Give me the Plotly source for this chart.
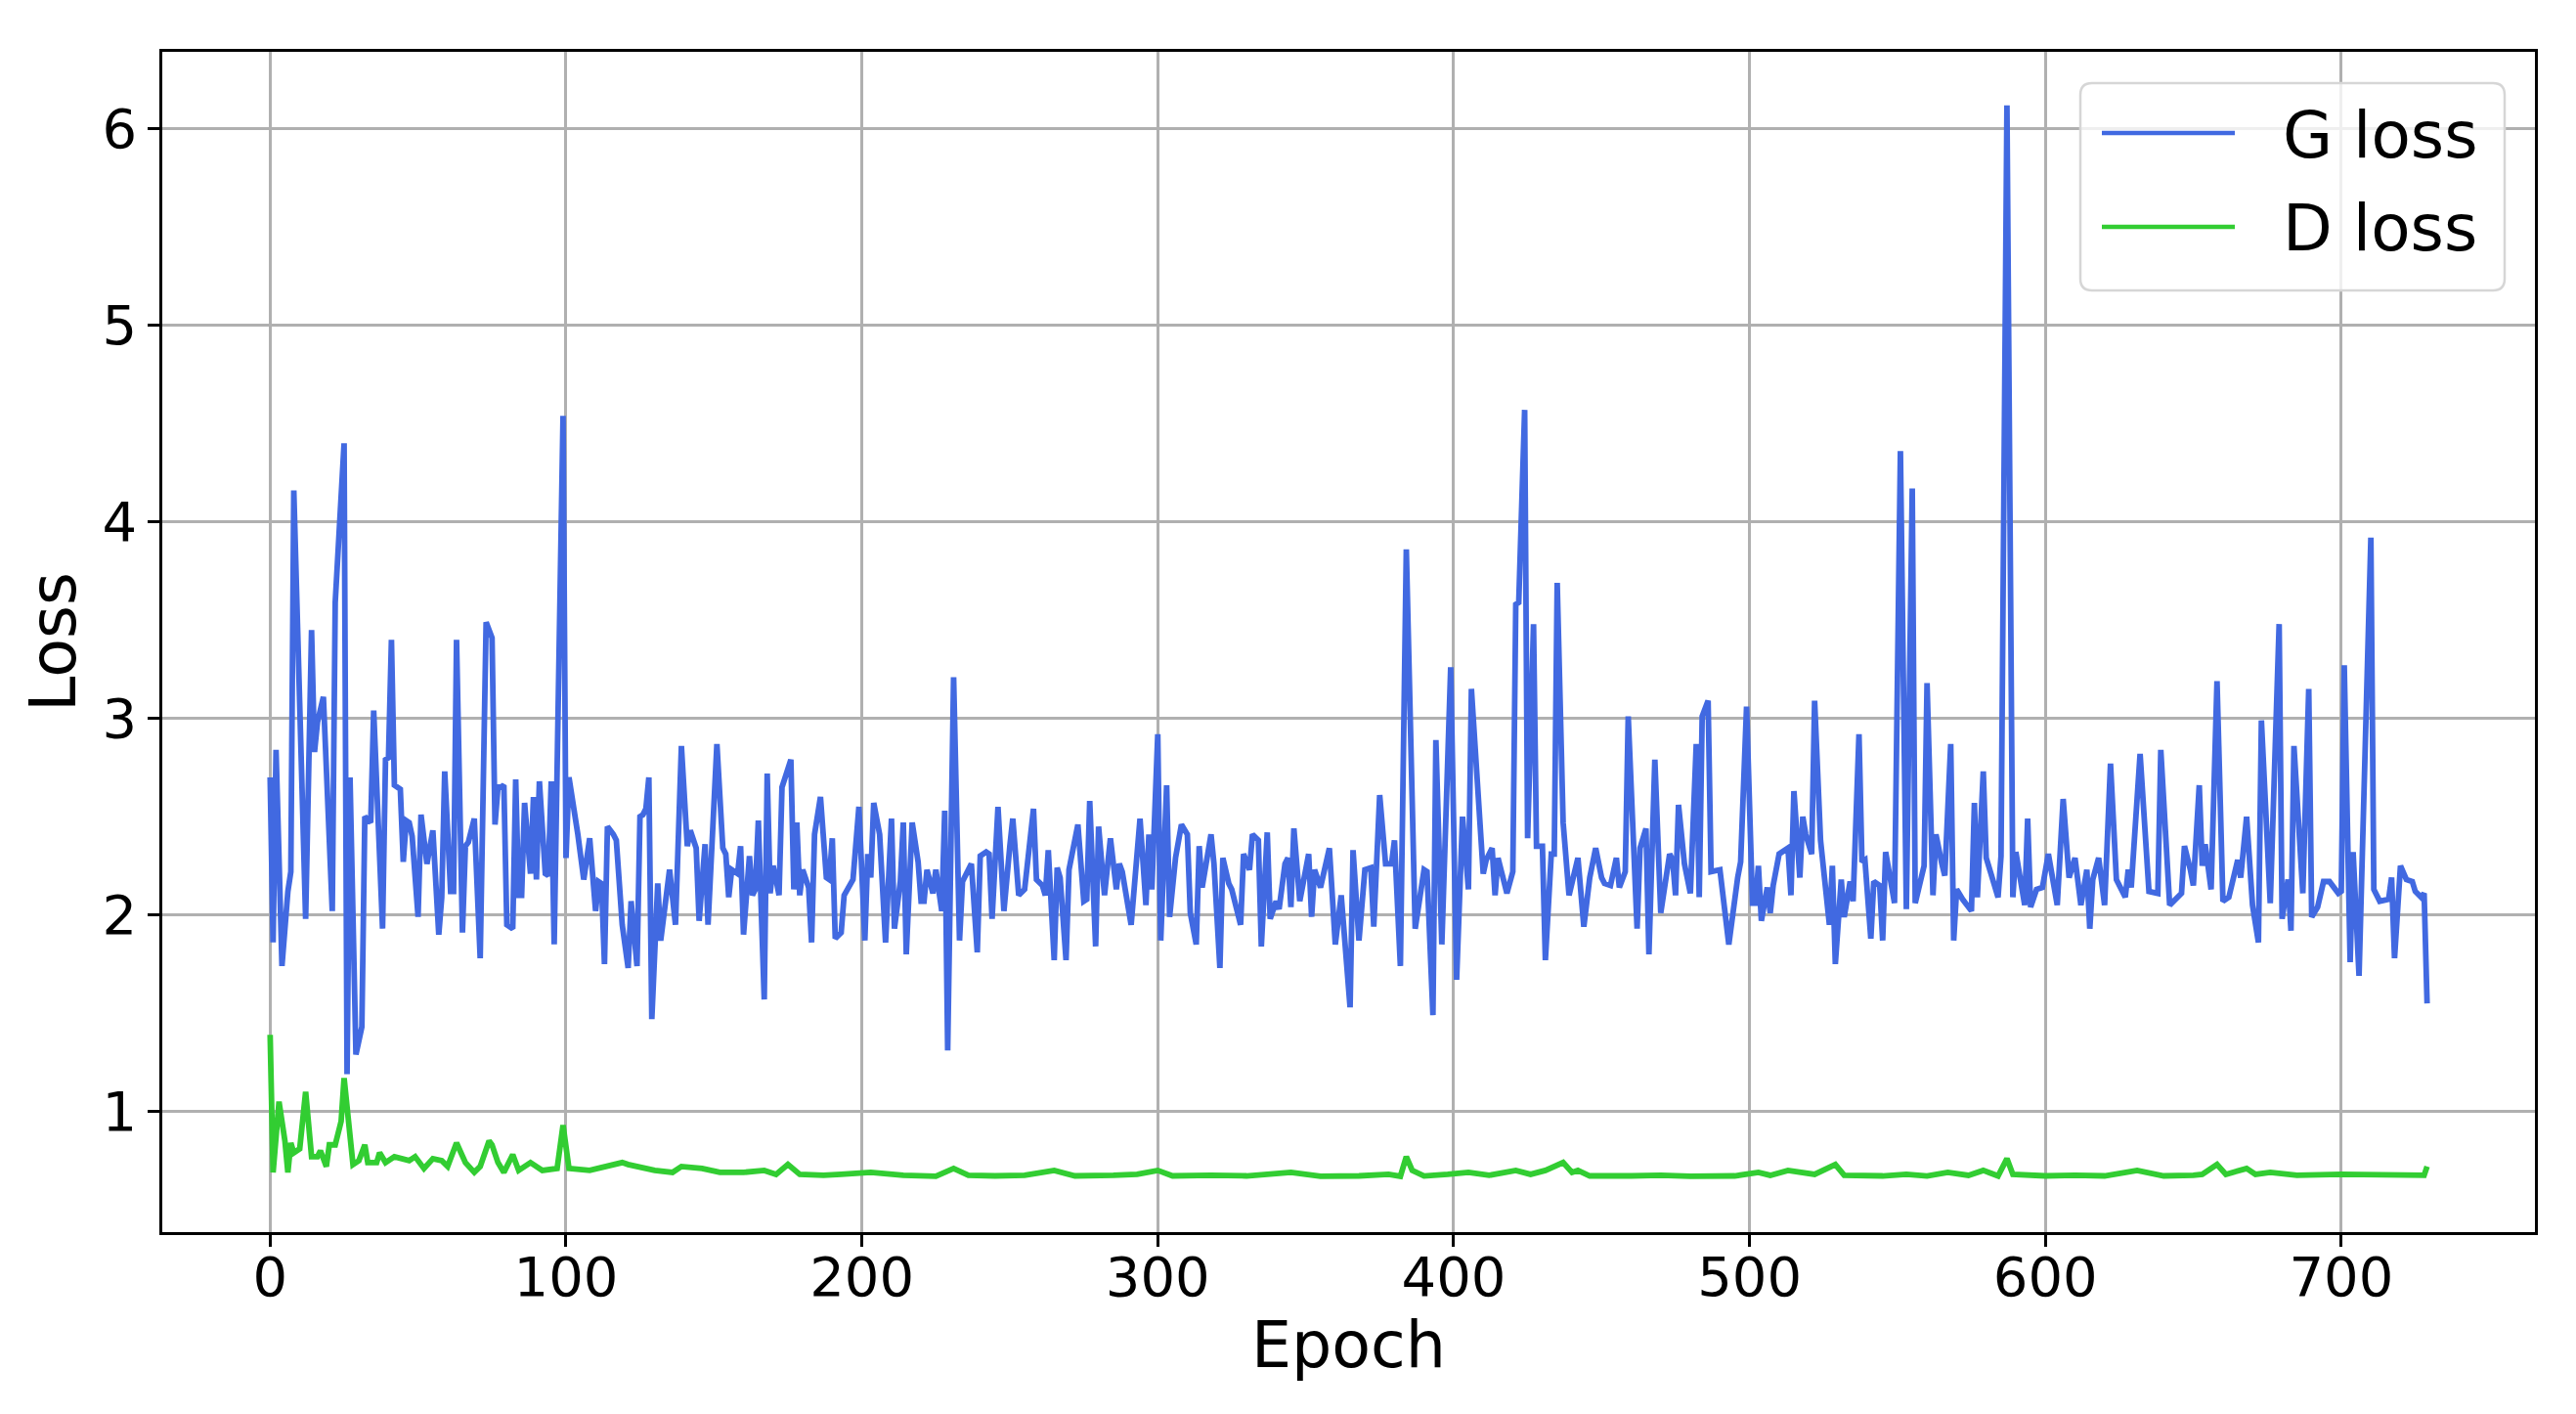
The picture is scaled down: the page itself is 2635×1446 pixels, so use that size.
import plotly.graph_objects as go

# ---- data ----
g_epoch = [0, 1, 2, 4, 6, 7, 8, 12, 14, 15, 16, 18, 21, 22, 25, 26, 27, 29, 31, 32, 34, 35, 38, 39, 40, 41, 42, 44, 45, 46, 47, 48, 50, 51, 53, 54, 55, 57, 58, 59, 61, 62, 63, 65, 66, 67, 69, 71, 73, 75, 76, 77,
           78, 79, 80, 82, 83, 84, 85, 86, 88, 89, 90, 91, 93, 94, 95, 96, 99, 100, 101, 104, 106, 108, 110, 111, 112, 113, 114, 116, 117, 119, 121, 122, 123, 124, 125, 126, 127, 128, 129, 131, 132, 135, 137, 139, 141, 142, 144, 145, 147, 148, 151, 153, 154, 155, 156, 158, 159, 160,
           162, 163, 164, 165, 167, 168, 169, 170, 171, 172, 173, 176, 177, 178, 179, 180, 182, 183, 184, 186, 188, 189, 190, 191, 193, 194, 197, 199, 201, 202, 203, 204, 206, 208, 210, 211, 213, 214, 215, 217, 219, 220, 221, 222, 224, 225, 227, 228, 229, 231, 233, 234, 237, 239, 240, 242,
           243, 244, 246, 248, 250, 251, 253, 255, 258, 259, 261, 262, 263, 265, 266, 267, 269, 270, 273, 275, 276, 277, 279, 280, 282, 284, 286, 287, 288, 291, 294, 296, 297, 298, 300, 301, 303, 304, 306, 308, 310, 311, 313, 314, 315, 318, 319, 321, 322, 324,
           325, 326, 328, 329, 331, 332, 334, 335, 337, 338, 340, 341, 343, 344, 345, 346, 348, 351, 352, 353, 355, 358, 360, 362, 365, 366, 368, 370, 372, 373, 375, 377, 379, 380, 382, 384, 387, 390, 391, 393, 394, 396, 399, 401, 403, 405,
           406, 410, 411, 413, 414, 415, 418, 420, 421, 422, 424, 425, 427, 428, 430, 431, 433, 434, 435, 437, 439, 442, 444, 446, 448, 450, 451, 453, 455, 456, 458, 459, 462, 463, 465, 466, 468, 470, 473, 474, 475, 476, 478, 480, 482, 483, 484, 486, 487,
           490, 493, 496, 497, 499, 501, 502, 503, 504, 506, 507, 508, 510, 513, 514, 515, 517, 518, 519, 521, 522, 524, 527, 528, 529, 531, 532, 534, 535, 537, 538, 539, 541, 542, 544, 545, 546, 547, 549, 551, 553, 555, 556, 559, 560, 562, 563, 565, 566, 568, 569,
           570, 572, 575, 576, 577, 579, 580, 583, 584, 585, 587, 589, 590, 593, 594, 595, 597, 599, 601, 604, 606, 608, 610, 612, 614, 615, 616, 618, 620, 622, 624, 627, 628, 629, 632, 635, 638, 639, 642, 646, 647, 649,
           650, 652, 653, 654, 656, 658, 660, 662, 665, 666, 668, 670, 672, 673, 676, 679, 680, 682, 683, 684, 687, 689, 690, 692, 694, 696, 699, 700, 701, 703, 704, 706, 710, 711, 713, 716, 717, 718, 720, 722, 724, 725, 727, 728, 729]

g_loss = [2.70, 1.86, 2.84, 1.74, 2.12, 2.22, 4.16, 1.98, 3.45, 2.83, 2.98, 3.11, 2.02, 3.59, 4.40, 1.19, 2.70, 1.29, 1.43, 2.50, 2.47, 3.04, 1.93, 2.79, 2.80, 3.40, 2.66, 2.64, 2.27, 2.48, 2.47, 2.40, 1.99, 2.51, 2.26, 2.37, 2.43, 1.90, 2.09, 2.73, 2.12, 2.12, 3.40, 1.91, 2.35, 2.37, 2.49, 1.78, 3.49, 3.41, 2.46, 2.65,
          2.65, 2.66, 1.95, 1.93, 2.69, 2.10, 2.10, 2.57, 2.21, 2.60, 2.18, 2.68, 2.21, 2.20, 2.68, 1.85, 4.54, 2.29, 2.70, 2.41, 2.18, 2.39, 2.02, 2.17, 2.16, 1.75, 2.45, 2.41, 2.38, 1.95, 1.73, 2.07, 1.93, 1.74, 2.50, 2.51, 2.54, 2.70, 1.47, 2.16, 1.87, 2.23, 1.95, 2.86, 2.35, 2.43, 2.34, 1.97, 2.36, 1.95, 2.87, 2.34, 2.31, 2.09, 2.23, 2.21, 2.35, 1.90,
          2.30, 2.10, 2.13, 2.48, 1.57, 2.72, 2.11, 2.25, 2.18, 2.10, 2.65, 2.79, 2.13, 2.47, 2.10, 2.23, 2.14, 1.86, 2.41, 2.60, 2.19, 2.18, 2.39, 1.88, 1.91, 2.10, 2.18, 2.55, 1.87, 2.31, 2.19, 2.57, 2.41, 1.86, 2.49, 1.93, 2.17, 2.47, 1.80, 2.47, 2.27, 2.07, 2.07, 2.23, 2.11, 2.23, 2.02, 2.53, 1.31, 3.21, 1.87, 2.17, 2.26, 1.81, 2.30, 2.32,
          2.31, 1.98, 2.55, 2.02, 2.35, 2.49, 2.10, 2.13, 2.54, 2.18, 2.15, 2.10, 2.33, 1.77, 2.24, 2.19, 1.77, 2.23, 2.46, 2.07, 2.08, 2.58, 1.84, 2.45, 2.10, 2.39, 2.13, 2.26, 2.22, 1.95, 2.49, 2.05, 2.41, 2.13, 2.92, 1.87, 2.66, 1.99, 2.29, 2.46, 2.41, 2.01, 1.85, 2.35, 2.14, 2.41, 2.26, 1.73, 2.29, 2.16,
          2.13, 2.07, 1.95, 2.31, 2.23, 2.41, 2.38, 1.84, 2.42, 1.98, 2.07, 2.03, 2.26, 2.29, 2.04, 2.44, 2.07, 2.31, 1.99, 2.23, 2.14, 2.34, 1.85, 2.10, 1.53, 2.33, 1.87, 2.23, 2.24, 1.94, 2.61, 2.26, 2.26, 2.38, 1.74, 3.86, 1.93, 2.23, 2.22, 1.49, 2.89, 1.85, 3.26, 1.67, 2.50, 2.13,
          3.15, 2.21, 2.28, 2.34, 2.10, 2.29, 2.11, 2.22, 3.58, 3.59, 4.57, 2.39, 3.48, 2.35, 2.35, 1.77, 2.31, 2.31, 3.69, 2.47, 2.10, 2.29, 1.94, 2.19, 2.34, 2.19, 2.16, 2.15, 2.29, 2.14, 2.22, 3.01, 1.93, 2.34, 2.44, 1.80, 2.79, 2.01, 2.31, 2.28, 2.10, 2.56, 2.26, 2.11, 2.87, 2.09, 3.01, 3.09, 2.22,
          2.23, 1.85, 2.19, 2.27, 3.06, 2.06, 2.06, 2.25, 1.97, 2.14, 2.01, 2.15, 2.31, 2.34, 2.10, 2.63, 2.19, 2.50, 2.41, 2.31, 3.09, 2.38, 1.95, 2.25, 1.75, 2.18, 1.99, 2.17, 2.07, 2.92, 2.27, 2.28, 1.88, 2.17, 2.15, 1.87, 2.32, 2.22, 2.06, 4.36, 2.03, 4.17, 2.06, 2.25, 3.18, 2.10, 2.41, 2.26, 2.20, 2.87, 1.87,
          2.13, 2.08, 2.02, 2.57, 2.09, 2.73, 2.29, 2.13, 2.09, 2.30, 6.12, 2.09, 2.32, 2.05, 2.49, 2.04, 2.13, 2.14, 2.31, 2.05, 2.59, 2.19, 2.29, 2.05, 2.23, 1.93, 2.18, 2.29, 2.05, 2.77, 2.18, 2.09, 2.23, 2.14, 2.82, 2.12, 2.11, 2.84, 2.05, 2.11, 2.35, 2.23,
          2.15, 2.66, 2.25, 2.36, 2.13, 3.19, 2.07, 2.09, 2.28, 2.19, 2.50, 2.05, 1.86, 2.99, 2.06, 3.48, 1.98, 2.18, 1.92, 2.86, 2.11, 3.15, 1.99, 2.04, 2.17, 2.17, 2.11, 2.12, 3.27, 1.76, 2.32, 1.69, 3.92, 2.13, 2.07, 2.08, 2.19, 1.78, 2.25, 2.18, 2.17, 2.12, 2.09, 2.11, 1.55]

d_epoch = [0, 1, 3, 5, 6, 7, 8, 10, 12, 14, 16, 17, 19, 20, 22, 24, 25, 27, 28, 30, 32, 33, 36, 37, 39, 42, 45, 47, 49, 52, 55, 58, 60, 63, 66, 69, 71, 74, 75, 77, 79, 82, 84, 88, 92, 97, 99, 101, 108, 114, 119, 121, 127, 130, 136, 139, 146, 152, 160,
           167, 171, 175, 179, 187, 193, 203, 214, 225, 231, 236, 245, 255, 265, 272, 285, 293, 300, 305, 318, 330, 345, 355, 368, 378, 382, 384, 386, 390, 398, 405, 412, 421, 426, 431, 437, 440, 442, 446, 460, 470, 480, 490, 495, 503, 507, 513, 518, 522, 529, 532, 545, 553, 560, 567, 574, 579, 584, 587, 589, 600, 610, 620, 631, 640, 650, 653, 658, 661, 668, 671, 676, 685, 700, 712, 720, 726, 728, 729]

d_loss = [1.39, 0.69, 1.05, 0.85, 0.69, 0.84, 0.79, 0.81, 1.10, 0.77, 0.77, 0.80, 0.72, 0.83, 0.83, 0.95, 1.17, 0.88, 0.73, 0.75, 0.83, 0.74, 0.74, 0.79, 0.74, 0.77, 0.76, 0.75, 0.77, 0.71, 0.76, 0.75, 0.72, 0.84, 0.74, 0.69, 0.72, 0.85, 0.83, 0.74, 0.69, 0.78, 0.70, 0.74, 0.70, 0.71, 0.93, 0.71, 0.70, 0.72, 0.74, 0.73, 0.71, 0.70, 0.69, 0.72, 0.71, 0.69, 0.69,
          0.70, 0.68, 0.73, 0.68, 0.675, 0.68, 0.69, 0.675, 0.67, 0.71, 0.675, 0.672, 0.675, 0.70, 0.672, 0.675, 0.68, 0.70, 0.672, 0.675, 0.672, 0.69, 0.67, 0.672, 0.68, 0.67, 0.77, 0.70, 0.672, 0.68, 0.69, 0.675, 0.70, 0.68, 0.70, 0.74, 0.69, 0.70, 0.672, 0.672, 0.675, 0.67, 0.675, 0.672, 0.69, 0.675, 0.70, 0.69, 0.68, 0.73, 0.675, 0.672, 0.68, 0.672, 0.69, 0.675, 0.70, 0.672, 0.76, 0.68, 0.672, 0.675, 0.672, 0.70, 0.672, 0.675, 0.68, 0.73, 0.68, 0.71, 0.68, 0.69, 0.675, 0.68, 0.68, 0.675, 0.675, 0.675, 0.72]

series_names = ["G loss", "D loss"]
series_colors = ["#4169E1", "#32CD32"]
x_ticks = [0, 100, 200, 300, 400, 500, 600, 700]
y_ticks = [1, 2, 3, 4, 5, 6]

FONT = "DejaVu Sans"
OFF = 8  # default page body margin of the html page
W, H = 2635 - OFF, 1446 - OFF
ML, MR, MT, MB = 166 - OFF, 42, 53 - OFF, 186
PW, PH = W - ML - MR, H - MT - MB


def px(xp):  # page pixel -> paper x
    return (xp - OFF - ML) / PW


def py(yp):  # page pixel -> paper y
    return (H - MB - (yp - OFF)) / PH


fig = go.Figure()
fig.add_trace(go.Scatter(x=g_epoch, y=g_loss, mode="lines", name=series_names[0],
                         line=dict(color=series_colors[0], width=5.8), showlegend=False))
fig.add_trace(go.Scatter(x=d_epoch, y=d_loss, mode="lines", name=series_names[1],
                         line=dict(color=series_colors[1], width=5.8), showlegend=False))

axis_common = dict(showline=True, mirror=True, linecolor="black", linewidth=2.5,
                   ticks="outside", ticklen=12, tickwidth=2.5, tickcolor="black",
                   showgrid=True, gridcolor="#b0b0b0", gridwidth=2.5,
                   zeroline=False, automargin=False,
                   tickfont=dict(family=FONT, size=56, color="black"))

# legend box (matplotlib-style, rounded corners)
bx0, bx1, by0, by1, r = 2128, 2562, 85, 297, 12
box_path = (f"M {px(bx0 + r)} {py(by0)} L {px(bx1 - r)} {py(by0)} "
            f"Q {px(bx1)} {py(by0)} {px(bx1)} {py(by0 + r)} "
            f"L {px(bx1)} {py(by1 - r)} Q {px(bx1)} {py(by1)} {px(bx1 - r)} {py(by1)} "
            f"L {px(bx0 + r)} {py(by1)} Q {px(bx0)} {py(by1)} {px(bx0)} {py(by1 - r)} "
            f"L {px(bx0)} {py(by0 + r)} Q {px(bx0)} {py(by0)} {px(bx0 + r)} {py(by0)} Z")
shapes = [dict(type="path", xref="paper", yref="paper", path=box_path,
               fillcolor="rgba(255,255,255,0.8)", line=dict(color="#d6d6d6", width=2.5), layer="above")]
annotations = []
for i, (name, col) in enumerate(zip(series_names, series_colors)):
    yc = 136 + 96 * i
    shapes.append(dict(type="line", xref="paper", yref="paper",
                       x0=px(2150), x1=px(2286), y0=py(yc), y1=py(yc),
                       line=dict(color=col, width=4.7), layer="above"))
    annotations.append(dict(xref="paper", yref="paper", x=px(2333), y=py(yc + 2),
                            xanchor="left", yanchor="middle", showarrow=False,
                            text=name, font=dict(family=FONT, size=66, color="black")))

fig.update_layout(
    width=W, height=H,
    paper_bgcolor="white", plot_bgcolor="white",
    margin=dict(l=ML, r=MR, t=MT, b=MB),
    font=dict(family=FONT, color="black"),
    xaxis=dict(range=[-36.45, 765.45], tickmode="array", tickvals=x_ticks,
               ticklabelstandoff=-17,
               title=dict(text="Epoch", font=dict(family=FONT, size=65), standoff=5),
               **axis_common),
    yaxis=dict(range=[0.386, 6.392], tickmode="array", tickvals=y_ticks,
               title=dict(text="Loss", font=dict(family=FONT, size=65), standoff=6),
               **axis_common),
    shapes=shapes,
    annotations=annotations,
    showlegend=False,
)

fig.write_html("out.html")
